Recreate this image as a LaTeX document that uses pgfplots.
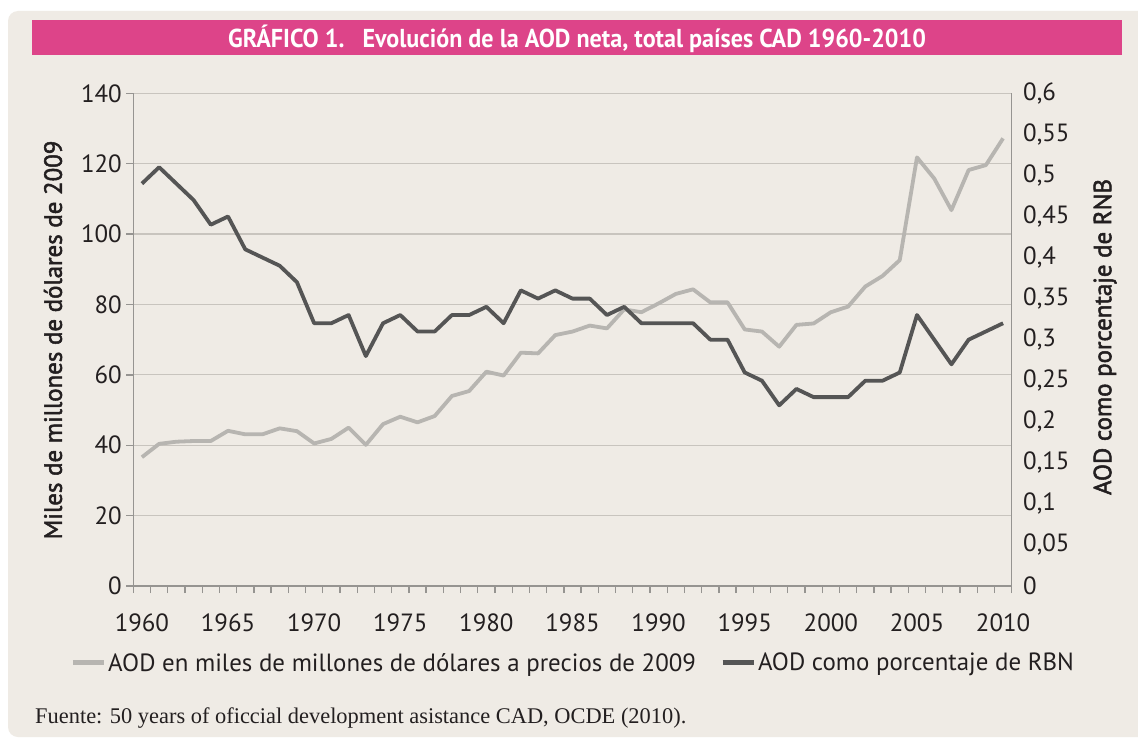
\documentclass[border=0pt]{standalone}
\usepackage{fontspec}
\setmainfont{PT Sans}
\newfontfamily\titlefont[FakeStretch=0.93]{PT Sans}
\newfontfamily\footfont{Liberation Serif}
\usepackage{pgfplots}
\usepackage{pgfplotstable}
\pgfplotsset{compat=1.18}
\definecolor{panel}{RGB}{239,235,229}
\definecolor{pinkbar}{RGB}{221,68,137}
\definecolor{gridc}{RGB}{200,196,190}
\definecolor{axisc}{RGB}{150,148,145}
\definecolor{lightser}{RGB}{183,181,177}
\definecolor{darkser}{RGB}{85,85,85}
\definecolor{textc}{RGB}{35,31,32}

\pgfplotstableread{
year aod
1960 36.6
1961 40.4
1962 41.0
1963 41.2
1964 41.2
1965 44.1
1966 43.1
1967 43.1
1968 44.8
1969 44.0
1970 40.5
1971 41.8
1972 45.0
1973 40.1
1974 46.0
1975 48.1
1976 46.5
1977 48.3
1978 54.0
1979 55.4
1980 60.9
1981 59.8
1982 66.3
1983 66.1
1984 71.3
1985 72.3
1986 74.0
1987 73.2
1988 78.6
1989 77.8
1990 80.3
1991 83.0
1992 84.3
1993 80.6
1994 80.6
1995 72.9
1996 72.3
1997 68.0
1998 74.2
1999 74.6
2000 77.8
2001 79.4
2002 85.1
2003 88.1
2004 92.6
2005 121.8
2006 115.8
2007 106.8
2008 118.2
2009 119.6
2010 127.2
}\aodtable

\pgfplotstableread{
year pct
1960 0.49
1961 0.51
1962 0.49
1963 0.47
1964 0.44
1965 0.45
1966 0.41
1967 0.40
1968 0.39
1969 0.37
1970 0.32
1971 0.32
1972 0.33
1973 0.28
1974 0.32
1975 0.33
1976 0.31
1977 0.31
1978 0.33
1979 0.33
1980 0.34
1981 0.32
1982 0.36
1983 0.35
1984 0.36
1985 0.35
1986 0.35
1987 0.33
1988 0.34
1989 0.32
1990 0.32
1991 0.32
1992 0.32
1993 0.30
1994 0.30
1995 0.26
1996 0.25
1997 0.22
1998 0.24
1999 0.23
2000 0.23
2001 0.23
2002 0.25
2003 0.25
2004 0.26
2005 0.33
2006 0.30
2007 0.27
2008 0.30
2009 0.31
2010 0.32
}\pcttable

\begin{document}
\begin{tikzpicture}[x=1bp,y=1bp]
\clip (0,0) rectangle (1138,-738);
\fill[white] (0,0) rectangle (1138,-738);
\fill[panel, rounded corners=10bp] (8,-11) rectangle (1170,-737);
\fill[pinkbar] (32,-20) rectangle (1122,-55);
\node[text=white, inner sep=0pt] at (577,-38.5) {\titlefont\bfseries\fontsize{26}{28}\selectfont GRÁFICO 1.\hspace{18bp}Evolución de la AOD neta, total países CAD 1960-2010};

\begin{axis}[
  at={(133.3bp,-586bp)}, anchor=south west,
  scale only axis, width=878.4bp, height=492.7bp,
  xmin=1959.5, xmax=2010.5, ymin=0, ymax=140,
  xtick={1959.5,1960.5,...,2010.5}, xticklabels={},
  extra x ticks={1960,1965,...,2010},
  extra x tick style={major tick length=0pt},
  extra x tick labels={1960,1965,1970,1975,1980,1985,1990,1995,2000,2005,2010},
  ytick={0,20,...,140},
  ymajorgrids, grid style={gridc, line width=1.2bp},
  axis x line*=bottom, axis y line*=left,
  tick align=outside,
  axis line style={axisc, line width=1.5bp, -},
  tick style={axisc, line width=1.3bp},
  major tick length=7bp,
  ticklabel style={font=\fontsize{25}{26}\selectfont, text=textc},
  xticklabel style={yshift=-24bp},
  yticklabel style={xshift=-1bp},
  /pgf/number format/assume math mode=true,
  clip=false,
]
\addplot[lightser, line width=3.8bp, line join=round] table[x=year, y=aod] {\aodtable};
\end{axis}

\begin{axis}[
  at={(133.3bp,-586bp)}, anchor=south west,
  scale only axis, width=878.4bp, height=492.7bp,
  xmin=1959.5, xmax=2010.5, ymin=0, ymax=0.6,
  axis x line=none, axis y line*=right,
  ytick={0,0.05,0.1,0.15,0.2,0.25,0.3,0.35,0.4,0.45,0.5,0.55,0.6},
  /pgf/number format/use comma,
  /pgf/number format/fixed,
  /pgf/number format/precision=2,
  /pgf/number format/assume math mode=true,
  yticklabel style={font=\fontsize{25}{26}\selectfont, text=textc, xshift=8bp},
  axis line style={axisc, line width=1.5bp, -},
  major tick length=0pt,
  legend columns=2,
  legend style={at={(-0.072,-0.156)}, anchor=west, draw=none, fill=none, inner sep=0pt,
    font=\fontsize{25}{26}\selectfont, text=textc,
    /tikz/every even column/.append style={column sep=22bp}},
  legend cell align=left,
  legend image code/.code={\draw[#1, line width=5bp] (0bp,0bp) -- (31bp,0bp);},
]
\addlegendimage{lightser}
\addlegendentry{AOD en miles de millones de dólares a precios de 2009}
\addplot[darkser, line width=3.8bp, line join=round] table[x=year, y=pct] {\pcttable};
\addlegendentry{AOD como porcentaje de RBN}
\end{axis}

\node[rotate=90, text=textc, inner sep=0pt] at (53,-340) {\addfontfeature{FakeBold=2}\fontsize{25}{26}\selectfont Miles de millones de dólares de 2009};
\node[rotate=90, text=textc, inner sep=0pt] at (1105,-337) {\addfontfeature{FakeBold=2}\fontsize{25}{26}\selectfont AOD como porcentaje de RNB};
\node[anchor=west, text=textc, inner sep=0pt] at (35,-718) {\footfont\fontsize{22.5}{24}\selectfont Fuente: 50 years of oficcial development asistance CAD, OCDE (2010).};
\end{tikzpicture}
\end{document}
